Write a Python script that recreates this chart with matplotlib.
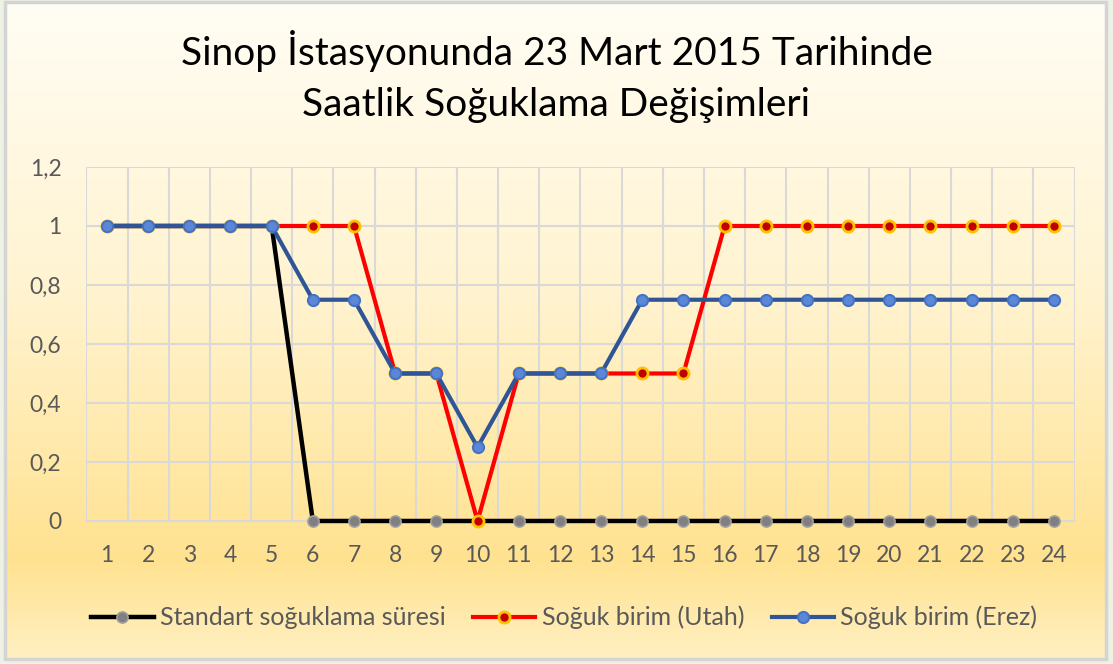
import numpy as np
import matplotlib.pyplot as plt
from matplotlib.colors import LinearSegmentedColormap
from matplotlib.patches import Rectangle

# Saatlik veriler (23 Mart 2015, Sinop)
hours = list(range(1, 25))
standart = [1, 1, 1, 1, 1, 0, 0, 0, 0, 0, 0, 0, 0, 0, 0, 0, 0, 0, 0, 0, 0, 0, 0, 0]
utah = [1, 1, 1, 1, 1, 1, 1, 0.5, 0.5, 0, 0.5, 0.5, 0.5, 0.5, 0.5, 1, 1, 1, 1, 1, 1, 1, 1, 1]
erez = [1, 1, 1, 1, 1, 0.75, 0.75, 0.5, 0.5, 0.25, 0.5, 0.5, 0.5, 0.75, 0.75, 0.75,
        0.75, 0.75, 0.75, 0.75, 0.75, 0.75, 0.75, 0.75]
y_ticks = [0, 0.2, 0.4, 0.6, 0.8, 1, 1.2]
y_labels = ["0", "0,2", "0,4", "0,6", "0,8", "1", "1,2"]

title = "Sinop İstasyonunda 23 Mart 2015 Tarihinde\nSaatlik Soğuklama Değişimleri"
names = ["Standart soğuklama süresi", "Soğuk birim (Utah)", "Soğuk birim (Erez)"]

plt.rcParams['font.family'] = ['Lato', 'DejaVu Sans']

fig = plt.figure(figsize=(11.13, 6.64), dpi=100)
fig.patch.set_facecolor('#eef2e4')

# gradient background of the chart area
bg = fig.add_axes([0, 0, 1, 1], zorder=-10)
bg.set_axis_off()
cmap = LinearSegmentedColormap.from_list(
    'bg', [(0, '#fffdf4'), (0.45, '#fff3cf'), (0.85, '#ffe290'), (1.0, '#fff0c2')])
grad = np.linspace(0, 1, 256).reshape(-1, 1)
bg.imshow(grad, aspect='auto', cmap=cmap, extent=[5 / 1113, 1106 / 1113, 5 / 664, 662 / 664],
          origin='upper')
bg.add_patch(Rectangle((5 / 1113, 5 / 664), 1101 / 1113, 657 / 664, fill=False,
                       edgecolor='#d4d4d4', linewidth=2.5))
bg.set_xlim(0, 1)
bg.set_ylim(0, 1)

ax = fig.add_axes([0.0776, 0.2154, 0.8879, 0.5331])
ax.set_facecolor('none')

ax.plot(hours, standart, color='black', lw=3.2, marker='o', ms=8,
        mfc='#808080', mec='#a0a0a0', mew=1.2, label=names[0], zorder=3, clip_on=False)
ax.plot(hours, utah, color='#ff0000', lw=3.0, marker='o', ms=8,
        mfc='#c00000', mec='#ffc000', mew=2.0, label=names[1], zorder=4, clip_on=False)
ax.plot(hours, erez, color='#2f5597', lw=3.0, marker='o', ms=8,
        mfc='#5b87d6', mec='#4472c4', mew=1.5, label=names[2], zorder=5, clip_on=False)

ax.set_xlim(0.5, 24.5)
ax.set_ylim(0, 1.2)
ax.set_xticks(hours)
ax.set_xticklabels([str(h) for h in hours])
ax.set_xticks(np.arange(0.5, 25, 1), minor=True)
ax.set_yticks(y_ticks)
ax.set_yticklabels(y_labels)
ax.grid(True, which='minor', axis='x', color='#d9d9d9', lw=1.5)
ax.grid(True, which='major', axis='y', color='#d9d9d9', lw=1.5)
ax.set_axisbelow(True)
for s in ['top', 'right', 'left']:
    ax.spines[s].set_visible(False)
ax.spines['bottom'].set_color('#d9d9d9')
ax.spines['bottom'].set_linewidth(1.5)
ax.tick_params(which='both', length=0, labelsize=16.5, labelcolor='#595959')
ax.tick_params(axis='x', pad=17)
ax.tick_params(axis='y', pad=18)

fig.text(0.5, 0.885, title, ha='center', va='center', fontsize=28,
         color='black', linespacing=1.52)

fig.legend(loc='center', bbox_to_anchor=(0.507, 0.07), ncol=3, frameon=False,
           fontsize=18, labelcolor='#595959', handlelength=2.5, handletextpad=0.25,
           columnspacing=1.1)

fig.savefig('out.png', dpi=100)
